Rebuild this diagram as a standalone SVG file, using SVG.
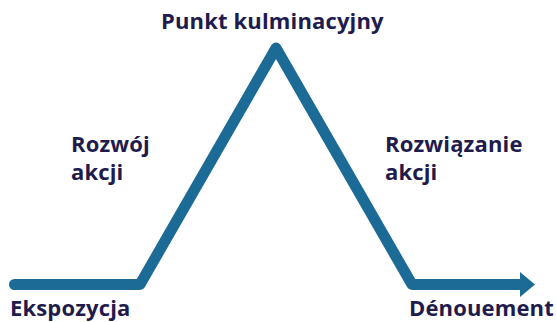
<svg xmlns="http://www.w3.org/2000/svg" width="557" height="322" viewBox="0 0 557 322">
<style>
.t{font-family:"Open Sans","Liberation Sans",sans-serif;font-weight:700;font-size:22px;letter-spacing:0.15px;fill:#1f1b4d}
.ln{fill:none;stroke:#1c6a96;stroke-width:11;stroke-linejoin:round}
</style>
<rect width="557" height="322" fill="#ffffff"/>
<g id="connectors">
<path class="ln" d="M14.5,284.5 H140 L276,48 L412,284.5 H521" stroke-linecap="butt"/>
<circle cx="14.5" cy="284.5" r="5.5" fill="#1c6a96"/>
<polygon points="520,272 535,284.5 520,297" fill="#1c6a96"/>
</g>
<g id="ekspozycja"><text class="t" x="10" y="316">Ekspozycja</text></g>
<g id="rozwoj"><text class="t" x="71" y="151.5">Rozwój<tspan x="71" dy="28">akcji</tspan></text></g>
<g id="punkt"><text class="t" x="161" y="28.5">Punkt kulminacyjny</text></g>
<g id="rozwiazanie"><text class="t" x="385" y="151.5">Rozwiązanie<tspan x="385" dy="28">akcji</tspan></text></g>
<g id="denouement"><text class="t" x="409" y="316">Dénouement</text></g>
</svg>
